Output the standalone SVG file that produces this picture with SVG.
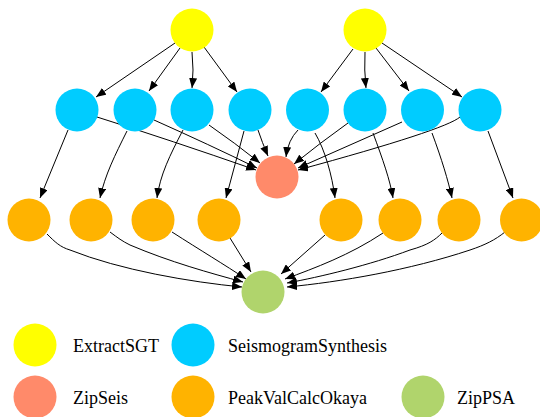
<svg xmlns="http://www.w3.org/2000/svg" width="540" height="417" viewBox="0 0 540 417">
<style>
.e{fill:none;stroke:#000;stroke-width:1}
.y{fill:#ffff00}.b{fill:#00ccff}.s{fill:#ff8a6a}.o{fill:#ffb300}.g{fill:#b0d46c}
text{font-family:"Liberation Serif","Times New Roman",serif;font-size:18px;fill:#000}
</style>
<defs>
<marker id="a" markerUnits="userSpaceOnUse" markerWidth="11" markerHeight="8" refX="10" refY="4" orient="auto">
<path d="M0,0 L10,4 L0,8 Z" fill="#000"/>
</marker>
</defs>
<g id="edges">
<path class="e" marker-end="url(#a)" d="M175,43 L96,97"/>
<path class="e" marker-end="url(#a)" d="M180,48 L149,91"/>
<path class="e" marker-end="url(#a)" d="M192,52 Q194,70 192,88"/>
<path class="e" marker-end="url(#a)" d="M204,47 L237,92"/>
<path class="e" marker-end="url(#a)" d="M353,49 L321,92"/>
<path class="e" marker-end="url(#a)" d="M365,52 Q364,70 366,88"/>
<path class="e" marker-end="url(#a)" d="M376,48 L409,91"/>
<path class="e" marker-end="url(#a)" d="M382,43 L462,97"/>
<path class="e" marker-end="url(#a)" d="M97,117 Q170,140 256,170"/>
<path class="e" marker-end="url(#a)" d="M154,120 Q210,145 257,168"/>
<path class="e" marker-end="url(#a)" d="M209,125 Q235,143 260,163"/>
<path class="e" marker-end="url(#a)" d="M258,130 Q262,142 268,156"/>
<path class="e" marker-end="url(#a)" d="M298,130 Q288,140 286,157"/>
<path class="e" marker-end="url(#a)" d="M348,123 Q320,143 294,164"/>
<path class="e" marker-end="url(#a)" d="M402,122 Q350,145 298,168"/>
<path class="e" marker-end="url(#a)" d="M460,117 Q445,130 298,170"/>
<path class="e" marker-end="url(#a)" d="M68,130 L40,198"/>
<path class="e" marker-end="url(#a)" d="M127,131 C115,155 105,175 100,198"/>
<path class="e" marker-end="url(#a)" d="M183,130 C170,155 160,175 157,198"/>
<path class="e" marker-end="url(#a)" d="M244,131 L226,198"/>
<path class="e" marker-end="url(#a)" d="M315,133 C325,150 332,175 335,198"/>
<path class="e" marker-end="url(#a)" d="M373,133 C383,160 390,180 393,198"/>
<path class="e" marker-end="url(#a)" d="M432,133 C442,160 448,180 452,198"/>
<path class="e" marker-end="url(#a)" d="M488,131 L513,198"/>
<path class="e" marker-end="url(#a)" d="M47,234 C55,242 60,247 70,250 C120,270 190,282 242,287"/>
<path class="e" marker-end="url(#a)" d="M110,232 C118,238 122,241 130,245 C170,262 210,273 243,282"/>
<path class="e" marker-end="url(#a)" d="M172,232 C200,250 225,265 246,279"/>
<path class="e" marker-end="url(#a)" d="M230,238 L251,272"/>
<path class="e" marker-end="url(#a)" d="M325,235 L281,274"/>
<path class="e" marker-end="url(#a)" d="M383,233 C350,255 315,268 285,279"/>
<path class="e" marker-end="url(#a)" d="M442,233 C435,240 428,245 410,250 C370,265 320,277 287,283"/>
<path class="e" marker-end="url(#a)" d="M505,232 C495,240 485,245 470,250 C410,270 340,282 287,287"/>
</g>
<g id="extract1"><circle class="y" cx="192" cy="30" r="21.5"/></g>
<g id="extract2"><circle class="y" cx="365" cy="30" r="21.5"/></g>
<g id="synth1"><circle class="b" cx="77" cy="110" r="21.5"/></g>
<g id="synth2"><circle class="b" cx="135" cy="110" r="21.5"/></g>
<g id="synth3"><circle class="b" cx="192" cy="110" r="21.5"/></g>
<g id="synth4"><circle class="b" cx="250" cy="110" r="21.5"/></g>
<g id="synth5"><circle class="b" cx="307.5" cy="110" r="21.5"/></g>
<g id="synth6"><circle class="b" cx="365" cy="110" r="21.5"/></g>
<g id="synth7"><circle class="b" cx="422.5" cy="110" r="21.5"/></g>
<g id="synth8"><circle class="b" cx="480" cy="110" r="21.5"/></g>
<g id="zipseis"><circle class="s" cx="277" cy="177" r="21.5"/></g>
<g id="peak1"><circle class="o" cx="29" cy="220" r="21.5"/></g>
<g id="peak2"><circle class="o" cx="91" cy="220" r="21.5"/></g>
<g id="peak3"><circle class="o" cx="153" cy="220" r="21.5"/></g>
<g id="peak4"><circle class="o" cx="219" cy="220" r="21.5"/></g>
<g id="peak5"><circle class="o" cx="341" cy="220" r="21.5"/></g>
<g id="peak6"><circle class="o" cx="400" cy="220" r="21.5"/></g>
<g id="peak7"><circle class="o" cx="459" cy="220" r="21.5"/></g>
<g id="peak8"><circle class="o" cx="521.5" cy="220" r="21.5"/></g>
<g id="zippsa"><circle class="g" cx="263" cy="292" r="21.5"/></g>
<g id="legend">
<circle class="y" cx="35" cy="345" r="21.5"/><text x="73" y="352">ExtractSGT</text>
<circle class="b" cx="193" cy="345" r="21.5"/><text x="228" y="352">SeismogramSynthesis</text>
<circle class="s" cx="35" cy="397" r="21.5"/><text x="73" y="404">ZipSeis</text>
<circle class="o" cx="193" cy="397" r="21.5"/><text x="228" y="404">PeakValCalcOkaya</text>
<circle class="g" cx="423" cy="397" r="21.5"/><text x="457" y="404">ZipPSA</text>
</g>
</svg>
